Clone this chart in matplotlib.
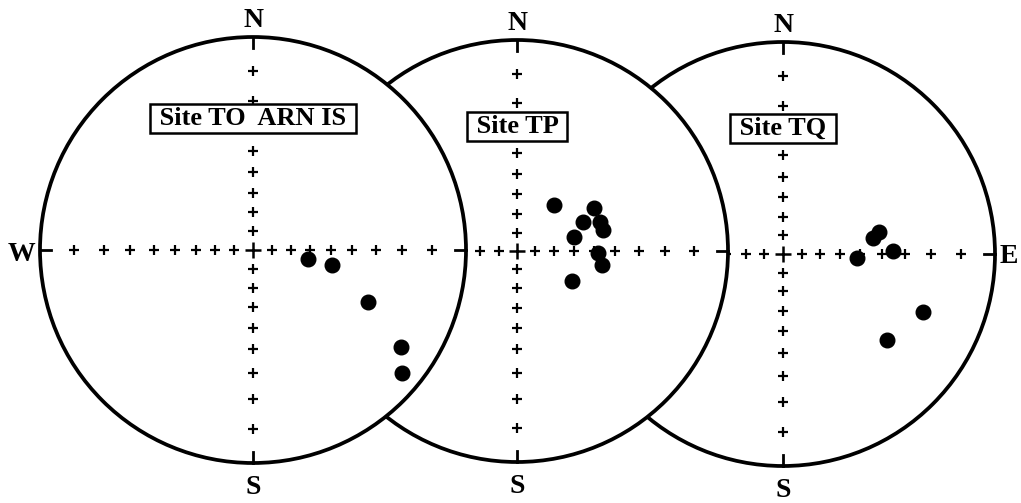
import numpy as np
import matplotlib
matplotlib.use("Agg")
import matplotlib.pyplot as plt
from matplotlib.patches import Circle

# ---- data: declination / inclination (degrees) of the site directions ----
sites = ["Site TO  ARN IS", "Site TP", "Site TQ"]
dec_TO = [99.3, 100.8, 114.3, 123.2, 129.5]
inc_TO = [60.7, 48.6, 28.7, 10.5, 5.6]
dec_TP = [38.8, 60.8, 66.3, 70.7, 76.3, 76.2, 91.4, 99.4, 118.6]
inc_TP = [58.7, 44.6, 52.3, 44.8, 44.5, 58.9, 48.0, 45.6, 56.9]
dec_TQ = [77.1, 79.9, 93.1, 88.4, 112.5, 129.6]
inc_TQ = [40.2, 43.3, 51.5, 35.1, 18.9, 25.0]
grid_inc = [80, 70, 60, 50, 40, 30, 20, 10]   # inclination grid crosses
compass = [["N", "S", "W"], ["N", "S"], ["N", "S", "E"]]

# ---- layout (pixels) ----
centers = [(253, 250), (517, 251), (783, 254)]
radii = [213, 211, 212]
label_dy = [125, 118, 119]
zbase = [30, 20, 10]   # left net on top, right net at bottom

fig = plt.figure(figsize=(10.21, 5.03), dpi=100)
ax = fig.add_axes([0, 0, 1, 1])
ax.set_xlim(0, 1021)
ax.set_ylim(503, 0)
ax.axis("off")

FONT = "Liberation Serif"


def proj(dec, inc, cx, cy, R):
    dec = np.radians(np.asarray(dec, float))
    r = R * np.tan(np.radians(90 - np.asarray(inc, float)) / 2)
    return cx + r * np.sin(dec), cy - r * np.cos(dec)


decs = [dec_TO, dec_TP, dec_TQ]
incs = [inc_TO, inc_TP, inc_TQ]

for k in range(3):
    cx, cy = centers[k]
    R = radii[k]
    z = zbase[k]
    # white disk
    ax.add_patch(Circle((cx, cy), R, fc="white", ec="none", zorder=z))
    # grid crosses on the four half axes
    for d in [0, 90, 180, 270]:
        gx, gy = proj([d] * len(grid_inc), grid_inc, cx, cy, R)
        ax.plot(gx, gy, ls="none", marker="+", ms=7, mew=1.6, color="black", zorder=z + 1)
    ax.plot([cx], [cy], ls="none", marker="+", ms=12, mew=1.8, color="black", zorder=z + 1)
    # edge ticks at N, S, W, E
    tl = 11
    ax.plot([cx, cx], [cy - R, cy - R + tl], color="black", lw=2.0, zorder=z + 1)
    ax.plot([cx, cx], [cy + R, cy + R - tl], color="black", lw=2.0, zorder=z + 1)
    ax.plot([cx - R, cx - R + tl], [cy, cy], color="black", lw=2.0, zorder=z + 1)
    ax.plot([cx + R, cx + R - tl], [cy, cy], color="black", lw=2.0, zorder=z + 1)
    # data points
    px, py = proj(decs[k], incs[k], cx, cy, R)
    ax.plot(px, py, ls="none", marker="o", ms=10.5, color="black", mec="black", zorder=z + 2)
    # label box
    ax.text(cx, cy - label_dy[k], " " + sites[k] + " ", ha="center", va="baseline",
            fontsize=19, fontweight="bold", family=FONT, zorder=z + 3,
            bbox=dict(boxstyle="square,pad=0.1", fc="white", ec="black", lw=1.8))
    # circle outline
    ax.add_patch(Circle((cx, cy), R, fc="none", ec="black", lw=2.7, zorder=z + 4))
    # compass letters
    for c in compass[k]:
        if c == "N":
            ax.text(cx, cy - R - 10, c, ha="center", va="baseline", fontsize=20,
                    fontweight="bold", family=FONT, zorder=z + 5)
        elif c == "S":
            ax.text(cx, cy + R + 31, c, ha="center", va="baseline", fontsize=20,
                    fontweight="bold", family=FONT, zorder=z + 5)
        elif c == "W":
            ax.text(cx - R - 5, cy + 11, c, ha="right", va="baseline", fontsize=20,
                    fontweight="bold", family=FONT, zorder=z + 5)
        elif c == "E":
            ax.text(cx + R + 5, cy + 9, c, ha="left", va="baseline", fontsize=20,
                    fontweight="bold", family=FONT, zorder=z + 5)

fig.savefig("out.png", dpi=100, facecolor="white")
